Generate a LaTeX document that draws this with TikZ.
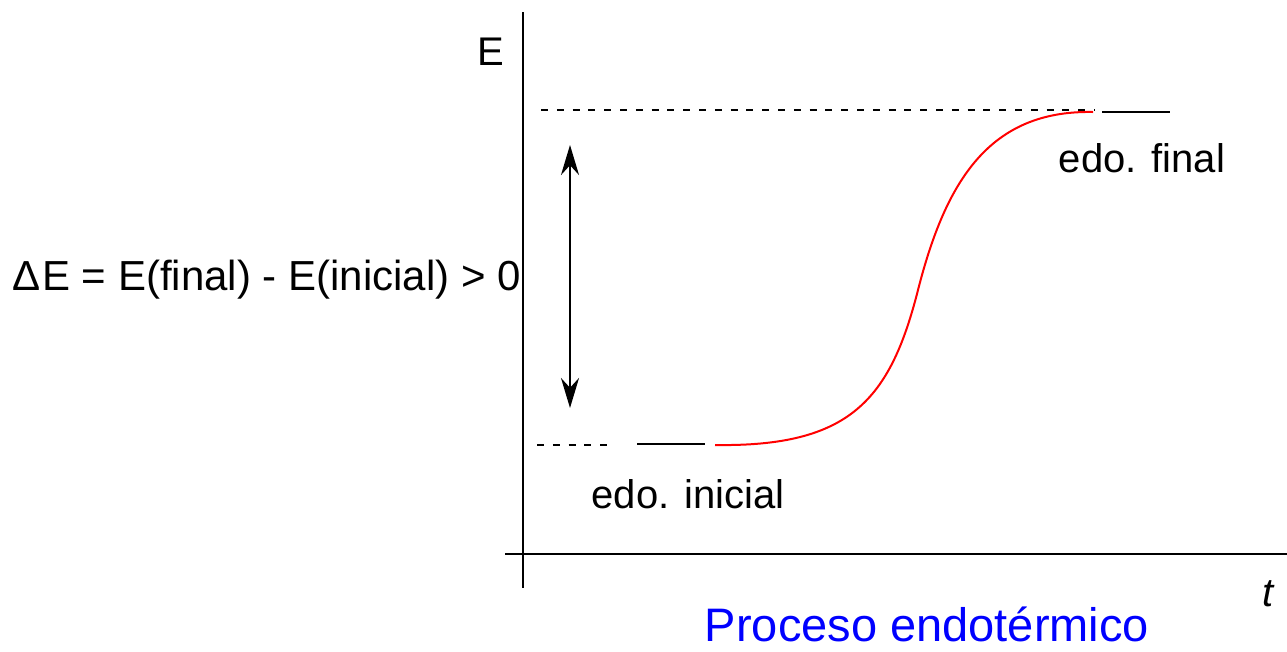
\documentclass[tikz,border=0pt]{standalone}
\usepackage{fontspec}
\setmainfont{Liberation Sans}
\usetikzlibrary{arrows.meta}
\begin{document}
\begin{tikzpicture}[x=1pt,y=-1pt,
  axis/.style={line width=2pt,black},
  lvl/.style={line width=2pt,black},
  dashlvl/.style={line width=2pt,black,dash pattern=on 7pt off 8.8pt},
  lbl/.style={font=\fontsize{40}{40}\selectfont,inner sep=0pt},
  curve/.style={line width=2pt,red}]
\useasboundingbox (0,0) rectangle (1287,651);
% axes
\coordinate (ytop) at (523,12);
\coordinate (ybot) at (523,588);
\coordinate (xl) at (505,554);
\coordinate (xr) at (1287,554);
\draw[axis] (ytop) -- (ybot);
\draw[axis] (xl) -- (xr);
\node[lbl] (E) at (491,52) {E};
\node[lbl,font=\fontsize{40}{40}\selectfont\itshape] (t) at (1268,594) {t};
% levels
\coordinate (dt1) at (541,110);
\coordinate (dt2) at (1095,110);
\draw[dashlvl] (dt1) -- (dt2);
\coordinate (db1) at (537,445);
\coordinate (db2) at (610,445);
\draw[dashlvl] (db1) -- (db2);
\coordinate (si1) at (637,444);
\coordinate (si2) at (705,444);
\draw[lvl] (si1) -- (si2);
\coordinate (sf1) at (1102,112);
\coordinate (sf2) at (1170,112);
\draw[lvl] (sf1) -- (sf2);
% curve
\coordinate (c0) at (715,445);
\coordinate (cm) at (918,290);
\coordinate (c1) at (1093,112);
\draw[curve] (c0) .. controls (850,447) and (890,400) .. (cm)
  .. controls (946,180) and (990,110) .. (c1);
% arrow
\coordinate (a1) at (570,145);
\coordinate (a2) at (570,408);
\draw[line width=2.2pt,{Stealth[length=30pt,width=18pt]}-{Stealth[length=30pt,width=18pt]}] (a1) -- (a2);
% labels
\node[lbl] (ini) at (688,494) {edo. inicial};
\node[lbl] (fin) at (1142,158) {edo. final};
\node[lbl,anchor=east,font=\fontsize{42}{42}\selectfont] (dE) at (521,280) {Δ\kern2pt E = E(final) - E(inicial) > 0};
\node[lbl,font=\fontsize{47}{47}\selectfont,text=blue,text depth=0pt,anchor=base] (proc) at (927,641) {Proceso endotérmico};
\end{tikzpicture}
\end{document}
